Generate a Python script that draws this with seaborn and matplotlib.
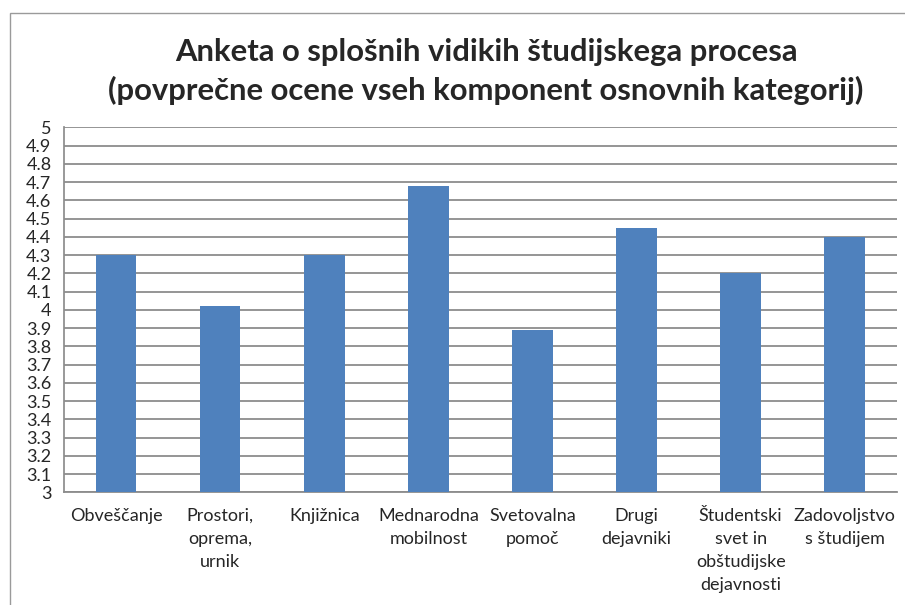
import pandas as pd
import matplotlib.pyplot as plt
import seaborn as sns
from matplotlib.patches import Rectangle

categories = [
    "Obveščanje",
    "Prostori,\noprema,\nurnik",
    "Knjižnica",
    "Mednarodna\nmobilnost",
    "Svetovalna\npomoč",
    "Drugi\ndejavniki",
    "Študentski\nsvet in\nobštudijske\ndejavnosti",
    "Zadovoljstvo\ns študijem",
]
scores = [4.30, 4.02, 4.30, 4.68, 3.89, 4.45, 4.20, 4.40]
y_ticks = [round(3 + 0.1 * i, 1) for i in range(21)]
y_labels = [f"{t:g}" for t in y_ticks]

title = ("Anketa o splošnih vidikih študijskega procesa\n"
         "(povprečne ocene vseh komponent osnovnih kategorij)")


def plot_chart(df):
    sns.set_theme(style="white")
    plt.rcParams["font.family"] = ["Lato", "DejaVu Sans"]

    fig = plt.figure(figsize=(9.05, 6.05), dpi=100)
    ax = fig.add_axes([0.0707, 0.1863, 0.9203, 0.6033])

    sns.barplot(data=df, x="category", y="score", color="#4f81bd",
                width=0.39, saturation=1, linewidth=0, ax=ax, zorder=3)

    ax.set_ylim(3, 5)
    ax.set_xlim(-0.5, len(categories) - 0.5)
    ax.set_yticks(y_ticks)
    ax.set_yticklabels(y_labels, fontsize=13)
    ax.tick_params(axis="y", length=0, pad=9)
    ax.tick_params(axis="x", length=0, pad=11, labelsize=13)
    ax.set_xticks(range(len(categories)))
    ax.set_xticklabels(categories, linespacing=1.55)
    ax.set_xlabel("")
    ax.set_ylabel("")
    ax.yaxis.grid(True, color="#8c8c8c", linewidth=1.3, zorder=0)
    ax.set_axisbelow(True)

    for side in ["top", "right"]:
        ax.spines[side].set_visible(False)
    ax.spines["left"].set_color("#8c8c8c")
    ax.spines["bottom"].set_color("#8c8c8c")
    ax.spines["bottom"].set_linewidth(1.3)

    fig.text(0.537, 0.882, title, ha="center", va="center",
             fontsize=22.3, fontweight="bold", linespacing=1.4)

    # chart area border
    fig.patches.append(Rectangle((0.011, -0.01), 1.0, 0.9885,
                                 transform=fig.transFigure, fill=False,
                                 edgecolor="#9a9a9a", linewidth=1.0))

    fig.savefig("out.png", dpi=100)
    plt.close(fig)


def main():
    df = pd.DataFrame({"category": categories, "score": scores})
    plot_chart(df)


if __name__ == "__main__":
    main()
